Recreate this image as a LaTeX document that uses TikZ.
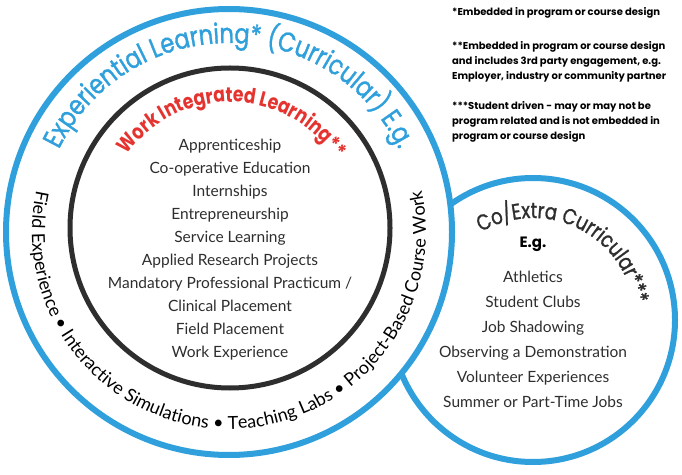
\documentclass[tikz,border=0pt]{standalone}
\usepackage{fontspec}
\setmainfont{Lato}
\newfontfamily\headfont[FakeStretch=0.82,FakeBold=1.2]{Poppins}
\newfontfamily\wilfont[FakeStretch=0.82]{Poppins}
\newfontfamily\notefont{Poppins}
\usetikzlibrary{decorations.text,positioning,calc}
\definecolor{elblue}{HTML}{2FA0DB}
\definecolor{wilred}{HTML}{E5332F}
\definecolor{ink}{HTML}{2E2E2E}

\begin{document}
\begin{tikzpicture}[
    x=1pt, y=1pt,
    ring/.style={draw=elblue, line width=6pt, fill=white},
    wilring/.style={draw=ink, line width=5pt},
    items/.style={align=center, text=ink, font=\fontsize{15.5}{23}\selectfont},
    note/.style={align=left, text=black, inner sep=0pt, font=\notefont\bfseries\fontsize{10}{15}\selectfont}
]
\useasboundingbox (0,0) rectangle (682,474);

% Centres of the three circles
\coordinate (el) at (229,242);
\coordinate (wil) at (230,246);
\coordinate (cx) at (533,154);

% Circles
\draw[ring] (cx) circle[radius=142pt];
\draw[ring] (el) circle[radius=223pt];
\draw[wilring] (wil) circle[radius=160pt];

% Curved headings
\path[decorate, decoration={text along path, text align=center, text color=elblue,
    text={|\headfont\fontsize{27.5}{27.5}\selectfont|Experiential Learning* (Curricular) E.g.}}]
    ($(el)+(178:189pt)$) arc[start angle=178, end angle=2, radius=189pt];
\path[decorate, decoration={text along path, text align=center, text color=wilred,
    text={|\wilfont\bfseries\fontsize{21}{21}\selectfont|Work Integrated Learning**}}]
    ($(wil)+(170:126pt)$) arc[start angle=170, end angle=8, radius=126pt];
\path[decorate, decoration={text along path, text align=center, text color=ink,
    text={|\headfont\fontsize{22}{22}\selectfont|Co/Extra Curricular***}}]
    ($(cx)+(140:102pt)$) arc[start angle=140, end angle=-10, radius=102pt];

% Ring of curricular examples
\path[decorate, decoration={text along path, text align=center, text color=black,
    text={|\fontsize{18}{18}\selectfont|Field Experience • Interactive Simulations • Teaching Labs • Project-Based Course Work}}]
    ($(el)+(160:197pt)$) arc[start angle=160, end angle=380, radius=197pt];

% Work integrated learning list
\node[items] (wlist) at (230,224) {Apprenticeship\\Co-operative Education\\Internships\\Entrepreneurship\\Service Learning\\Applied Research Projects\\Mandatory Professional Practicum /\\Clinical Placement\\Field Placement\\Work Experience};

% Co/extra curricular list
\node[items, font=\fontsize{15.5}{25}\selectfont] (clist) at (533,135) {Athletics\\Student Clubs\\Job Shadowing\\Observing a Demonstration\\Volunteer Experiences\\Summer or Part-Time Jobs};
\node[above=12pt of clist, text=black, font=\notefont\bfseries\fontsize{15}{15}\selectfont] (eg) {E.g.};

% Footnotes
\node[note, anchor=west] (fn1) at (452,461) {*Embedded in program or course design};
\node[note, below right=23pt and 0pt of fn1.south west] (fn2) {**Embedded in program or course design\\and includes 3rd party engagement, e.g.\\Employer, industry or community partner};
\node[note, below right=19pt and 0pt of fn2.south west] (fn3) {***Student driven - may or may not be\\program related and is not embedded in\\program or course design};

\end{tikzpicture}
\end{document}
